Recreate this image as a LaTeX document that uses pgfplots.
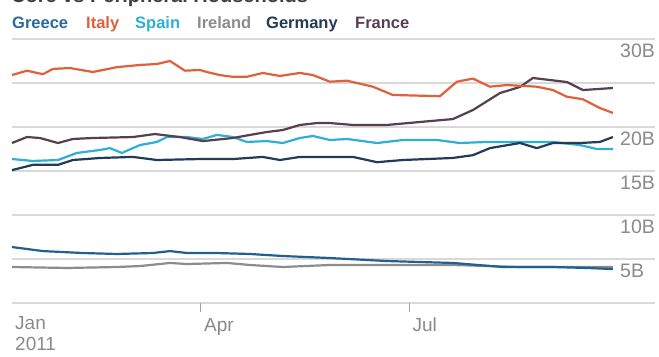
\documentclass[border=0pt]{standalone}
\usepackage{pgfplots}
\pgfplotsset{compat=1.18}
\usepackage{fontspec}
\setmainfont{Liberation Sans}
\definecolor{cGreece}{HTML}{2A6A9C}
\definecolor{cGreeceL}{HTML}{21608F}
\definecolor{cItaly}{HTML}{E0603C}
\definecolor{cSpain}{HTML}{2EAFD5}
\definecolor{cIreland}{HTML}{8C8C8C}
\definecolor{cGermany}{HTML}{243A5A}
\definecolor{cFrance}{HTML}{56404F}
\definecolor{cGrid}{HTML}{D9D9D9}
\definecolor{cLabel}{HTML}{8A8A8A}
\begin{document}
\begin{tikzpicture}[x=1bp,y=1bp]
\useasboundingbox[fill=white] (0,0) rectangle (659,356);
\node[anchor=base west, inner sep=0, font=\fontsize{20bp}{22bp}\selectfont\bfseries, text=black!75] at (11,354) {Core vs Peripheral Households};
\begin{scope}[every node/.style={anchor=base west, inner sep=0, font=\fontsize{16.5bp}{18bp}\selectfont\bfseries}]
\node[text=cGreece] at (12,328) {Greece};
\node[text=cItaly] at (86,328) {Italy};
\node[text=cSpain] at (135,328) {Spain};
\node[text=cIreland] at (197,328) {Ireland};
\node[text=cGermany] at (266,328) {Germany};
\node[text=cFrance] at (355,328) {France};
\end{scope}
\begin{axis}[
  at={(12bp,53bp)}, anchor=south west,
  scale only axis, width=643bp, height=264bp,
  xmin=7.5, xmax=288.3, ymin=0, ymax=30,
  clip=false,
  axis line style={draw=none},
  ytick={0,5,10,15,20,25,30},
  yticklabel=\empty,
  ytick style={draw=none},
  ymajorgrids,
  major grid style={cGrid, line width=1.5bp},
  xtick={90,181},
  xticklabels={Apr,Jul},
  extra x ticks={7.5},
  extra x tick labels={Jan\\2011},
  extra x tick style={major tick length=0pt, grid=none, xticklabel style={yshift=-7bp}},
  xtick pos=bottom,
  xtick align=outside,
  major tick length=9bp,
  xtick style={draw=cLabel!80, line width=1bp},
  xticklabel style={anchor=north west, align=left, inner sep=0pt, xshift=3bp, yshift=-6bp,
    font=\fontsize{19bp}{21.5bp}\selectfont, text=cLabel},
  every axis plot/.append style={line width=2.2bp, line join=round, mark=none},
]
% Ireland
\addplot[cIreland] coordinates {
(7.5,4.09)(31.5,3.98)(53.3,4.09)(63.4,4.2)(76.5,4.55)(83.9,4.43)(101.4,4.55)(111.4,4.32)(125.8,4.09)(146.3,4.32)(171.2,4.32)(200,4.32)(229.3,4.09)(258.6,4.09)(269.9,4.09)};
% Greece
\addplot[cGreeceL] coordinates {
(7.5,6.36)(21,5.9)(38.5,5.68)(53.3,5.57)(69,5.68)(76.5,5.9)(83.9,5.68)(97,5.68)(111.4,5.57)(125.8,5.34)(146.3,5.11)(171.2,4.77)(200,4.55)(221.9,4.09)(243.7,4.09)(258.6,3.98)(269.9,3.86)};
% Spain
\addplot[cSpain] coordinates {
(7.5,16.36)(16.6,16.14)(27.6,16.25)(35.8,17.05)(46,17.39)(50.3,17.6)(55.5,17.05)(63.4,17.95)(70.8,18.3)(75.2,18.86)(83.9,18.86)(90.9,18.64)(97,19.1)(104,18.86)(110,18.3)(118.8,18.4)(125.8,18.18)(133.2,18.75)(138.9,18.98)(146.3,18.52)(153.8,18.64)(166.9,18.18)(178.2,18.52)(193.1,18.52)(203.1,18.18)(214.9,18.3)(229.3,18.3)(243.7,18.3)(255.5,17.95)(262.9,17.5)(269.9,17.5)};
% Germany
\addplot[cGermany] coordinates {
(7.5,15.1)(16.6,15.7)(27.6,15.7)(34.1,16.25)(46,16.48)(60.3,16.6)(70.8,16.25)(89.6,16.36)(104,16.36)(117,16.6)(124.5,16.25)(133.2,16.6)(146.3,16.6)(156.4,16.6)(166.9,16.0)(178.2,16.25)(200,16.48)(208.8,16.8)(216.2,17.6)(229.3,18.18)(236.7,17.6)(243.7,18.18)(255.5,18.18)(264.2,18.3)(269.9,18.86)};
% France
\addplot[cFrance] coordinates {
(7.5,18.18)(14,18.86)(19.7,18.75)(27.6,18.18)(34.1,18.64)(42.8,18.75)(60.3,18.86)(69.9,19.2)(80.8,18.86)(90.9,18.4)(104,18.75)(111.4,19.1)(118.8,19.43)(125.8,19.66)(133.2,20.23)(140.7,20.45)(146.3,20.45)(156.4,20.23)(171.2,20.23)(185.6,20.57)(200,20.9)(208.8,21.93)(220.6,23.86)(229.3,24.55)(235,25.57)(249.8,25.11)(256.8,24.2)(269.9,24.43)};
% Italy
\addplot[cItaly] coordinates {
(7.5,25.9)(14,26.4)(21,26.0)(25.4,26.6)(32.8,26.7)(42.8,26.25)(53.3,26.8)(63.4,27.05)(70.8,27.16)(76.5,27.5)(83,26.4)(89.6,26.48)(92.6,26.25)(98.3,25.9)(104,25.7)(110,25.7)(117,26.14)(124.5,25.8)(133.2,26.14)(138.9,25.9)(146.3,25.15)(153.8,25.26)(165.1,24.58)(173.8,23.64)(194.4,23.5)(201.8,25.15)(208.8,25.5)(216.2,24.58)(223.6,24.77)(236.7,24.58)(243.7,24.2)(249.8,23.44)(256.8,23.15)(264.2,22.16)(269.9,21.6)};
\begin{scope}[every node/.style={anchor=north west, inner sep=0, font=\fontsize{19.5bp}{22bp}\selectfont, text=cLabel, yshift=-5bp}]
\node at (axis cs:273,30) {30B};
\node at (axis cs:273,20) {20B};
\node at (axis cs:273,15) {15B};
\node at (axis cs:273,10) {10B};
\node at (axis cs:273,5) {5B};
\end{scope}
\end{axis}
\end{tikzpicture}
\end{document}
